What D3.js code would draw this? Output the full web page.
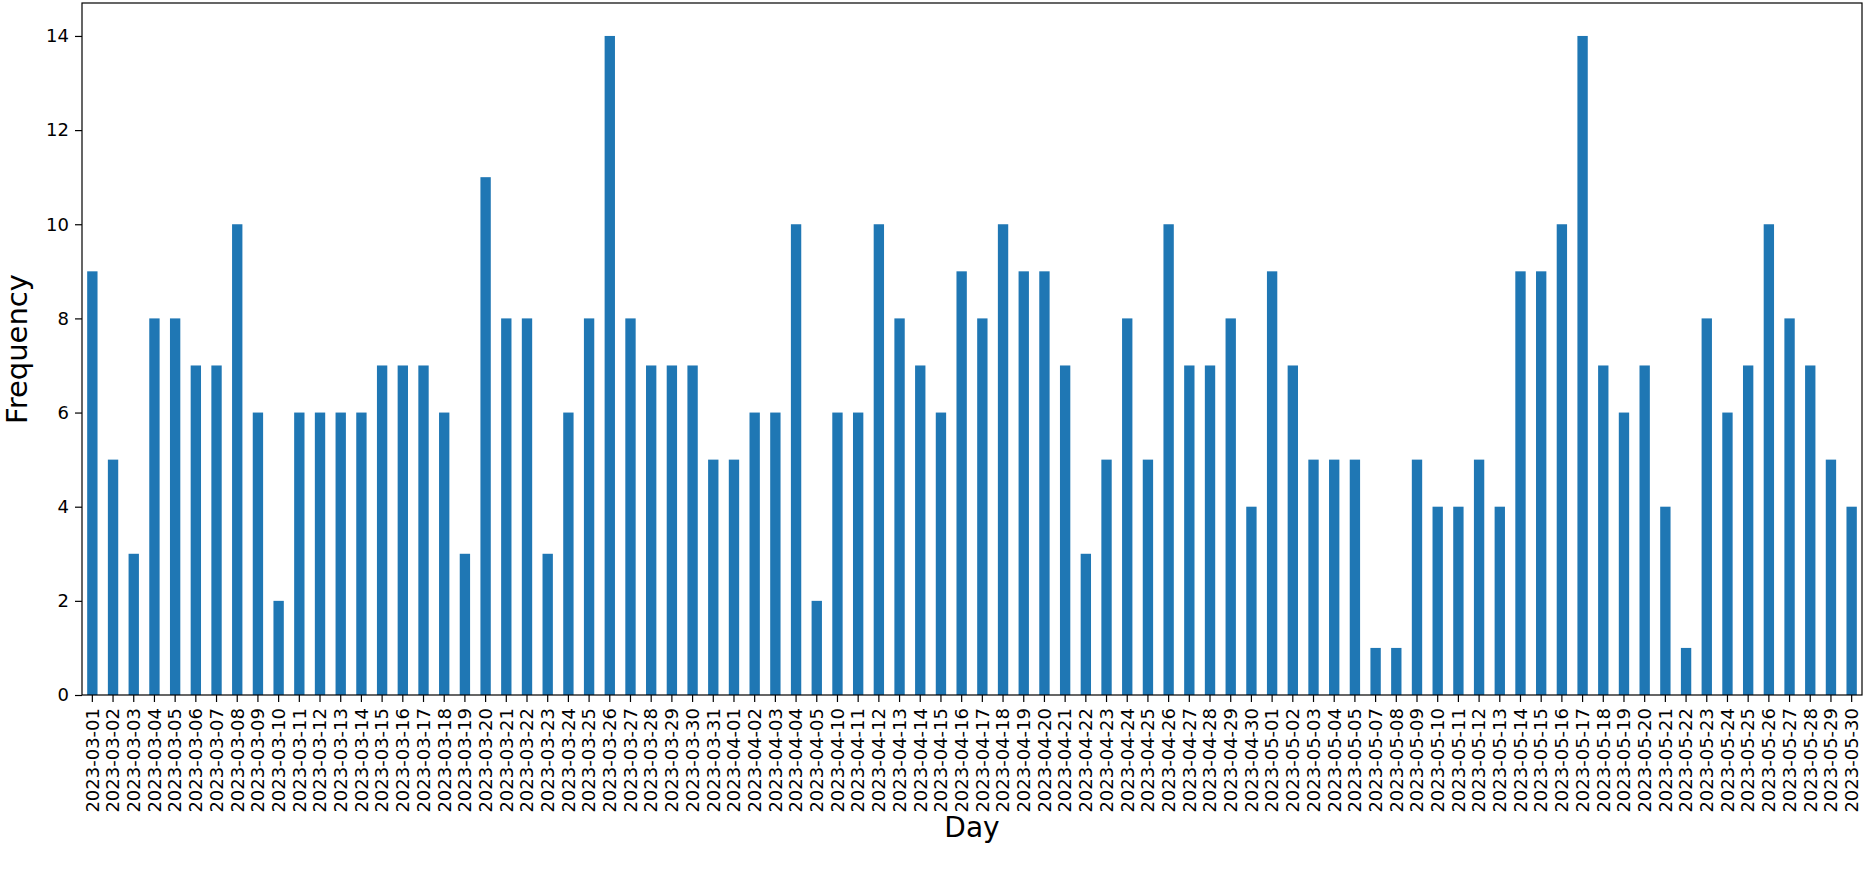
<!DOCTYPE html>
<html>
<head>
<meta charset="utf-8">
<script src="https://cdn.jsdelivr.net/npm/d3@7/dist/d3.min.js"></script>
<style>
  html, body { margin: 0; padding: 0; background: #fff; }
  svg { display: block; }
  text { font-family: "DejaVu Sans", sans-serif; fill: #000; }
</style>
</head>
<body>
<svg id="chart" width="1866" height="877"></svg>
<script>
const days = [
  "2023-03-01","2023-03-02","2023-03-03","2023-03-04","2023-03-05","2023-03-06","2023-03-07","2023-03-08","2023-03-09","2023-03-10",
  "2023-03-11","2023-03-12","2023-03-13","2023-03-14","2023-03-15","2023-03-16","2023-03-17","2023-03-18","2023-03-19","2023-03-20",
  "2023-03-21","2023-03-22","2023-03-23","2023-03-24","2023-03-25","2023-03-26","2023-03-27","2023-03-28","2023-03-29","2023-03-30",
  "2023-03-31",
  "2023-04-01","2023-04-02","2023-04-03","2023-04-04","2023-04-05",
  "2023-04-10","2023-04-11","2023-04-12","2023-04-13","2023-04-14","2023-04-15","2023-04-16","2023-04-17","2023-04-18","2023-04-19",
  "2023-04-20","2023-04-21","2023-04-22","2023-04-23","2023-04-24","2023-04-25","2023-04-26","2023-04-27","2023-04-28","2023-04-29",
  "2023-04-30",
  "2023-05-01","2023-05-02","2023-05-03","2023-05-04","2023-05-05",
  "2023-05-07","2023-05-08","2023-05-09","2023-05-10","2023-05-11","2023-05-12","2023-05-13","2023-05-14","2023-05-15","2023-05-16",
  "2023-05-17","2023-05-18","2023-05-19","2023-05-20","2023-05-21","2023-05-22","2023-05-23","2023-05-24","2023-05-25","2023-05-26",
  "2023-05-27","2023-05-28","2023-05-29","2023-05-30"
];
const frequency = [
  9,5,3,8,8,7,7,10,6,2,
  6,6,6,6,7,7,7,6,3,11,
  8,8,3,6,8,14,8,7,7,7,
  5,
  5,6,6,10,2,
  6,6,10,8,7,6,9,8,10,9,
  9,7,3,5,8,5,10,7,7,8,
  4,
  9,7,5,5,5,
  1,1,5,4,4,5,4,9,9,10,
  14,7,6,7,4,1,8,6,7,10,
  8,7,5,4
];
const yTicks = [0,2,4,6,8,10,12,14];

const svg = d3.select("#chart");
const mLeft = 82, mRight = 1862, mTop = 3, mBottom = 695;

const x = d3.scaleBand().domain(days).range([mLeft, mRight]).paddingInner(0.5).paddingOuter(0.25);
const y = d3.scaleLinear().domain([0, 14.7]).range([mBottom, mTop]);

svg.append("g").selectAll("rect").data(days).join("rect")
  .attr("x", d => x(d))
  .attr("width", x.bandwidth())
  .attr("y", (d, i) => y(frequency[i]))
  .attr("height", (d, i) => y(0) - y(frequency[i]))
  .attr("fill", "#1f77b4");

const yAxis = svg.append("g").attr("transform", `translate(${mLeft},0)`)
  .call(d3.axisLeft(y).tickValues(yTicks).tickSize(7).tickPadding(6).tickFormat(d3.format("d")));
yAxis.select(".domain").remove();
yAxis.selectAll("line").attr("stroke", "#000").attr("stroke-width", 1.2);
yAxis.selectAll("text").style("font-size", "18px").style("font-family", "DejaVu Sans");

const xAxis = svg.append("g").attr("transform", `translate(0,${mBottom})`)
  .call(d3.axisBottom(x).tickSize(7).tickPadding(6));
xAxis.select(".domain").remove();
xAxis.selectAll("line").attr("stroke", "#000").attr("stroke-width", 1.2);
xAxis.selectAll("text")
  .style("font-size", "18px").style("font-family", "DejaVu Sans")
  .attr("transform", "rotate(-90)")
  .attr("x", -13).attr("y", 0).attr("dy", "0.35em")
  .attr("text-anchor", "end");

svg.append("rect").attr("x", mLeft).attr("y", mTop).attr("width", mRight - mLeft).attr("height", mBottom - mTop)
  .attr("fill", "none").attr("stroke", "#000").attr("stroke-width", 1.2);

svg.append("text").attr("x", (mLeft + mRight) / 2).attr("y", 837).attr("text-anchor", "middle")
  .style("font-size", "28px").text("Day");
svg.append("text").attr("transform", `translate(27,${(mTop + mBottom) / 2}) rotate(-90)`)
  .attr("text-anchor", "middle").style("font-size", "29px").text("Frequency");
</script>
</body>
</html>
